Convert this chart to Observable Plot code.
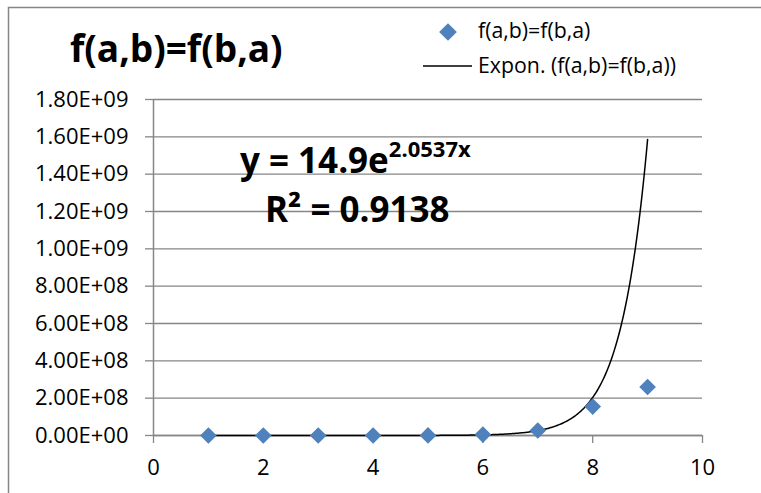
<!DOCTYPE html>
<html>
<head>
<meta charset="utf-8">
<script src="https://cdn.jsdelivr.net/npm/d3@7"></script>
<script src="https://cdn.jsdelivr.net/npm/@observablehq/plot@0.6"></script>
<style>
  html, body { margin: 0; padding: 0; background: #fff; }
  #chart { position: relative; width: 761px; height: 493px; overflow: hidden; }
  #chart > svg { position: absolute; left: 0; top: 0; }
</style>
</head>
<body>
<div id="chart"></div>
<script>
// ---- data ----
const xValues = [1, 2, 3, 4, 5, 6, 7, 8, 9];
const yValues = [1e2, 1e3, 1e4, 1e5, 6e5, 5e6, 2.7e7, 1.55e8, 2.6e8];
const seriesName = "f(a,b)=f(b,a)";
const trendName = "Expon. (f(a,b)=f(b,a))";
const trendCoef = [14.9];      // a in y = a e^(b x)
const trendExp = [2.0537];     // b
const trendRange = [1, 9];
const xTicks = [0, 2, 4, 6, 8, 10];
const yTicks = [0, 2e8, 4e8, 6e8, 8e8, 1e9, 1.2e9, 1.4e9, 1.6e9, 1.8e9];
const yTickLabels = ["0.00E+00","2.00E+08","4.00E+08","6.00E+08","8.00E+08","1.00E+09","1.20E+09","1.40E+09","1.60E+09","1.80E+09"];
const eqMain = ["y = 14.9e"];
const eqSup = ["2.0537x"];
const eqR2 = ["R² = 0.9138"];

const data = xValues.map((x, i) => ({x, y: yValues[i]}));
const trend = d3.range(trendRange[0], trendRange[1] + 1e-9, 0.02)
  .map(x => ({x, y: trendCoef[0] * Math.exp(trendExp[0] * x)}));

const gray = "#868686";
const blue = "#4F81BD";
const font = "'Open Sans', sans-serif";

const W = 761, H = 493;
const plot = Plot.plot({
  width: W, height: H,
  marginLeft: 153, marginRight: 59, marginTop: 99, marginBottom: 58,
  style: {fontFamily: font, fontSize: "22px", color: "#000", background: "transparent"},
  x: {domain: [0, 10]},
  y: {domain: [0, 1.8e9]},
  marks: [
    Plot.gridY(yTicks, {stroke: gray, strokeOpacity: 1, strokeWidth: 1.3}),
    Plot.axisY(yTicks, {tickSize: 8, tickPadding: 17, stroke: gray, strokeWidth: 1.3,
      tickFormat: d => yTickLabels[yTicks.indexOf(d)], label: null}),
    Plot.axisX(xTicks, {tickSize: 8, tickPadding: 16, stroke: gray, strokeWidth: 1.3, label: null}),
    Plot.ruleX([0], {stroke: gray, strokeWidth: 1.5}),
    Plot.ruleY([0], {stroke: gray, strokeWidth: 1.5}),
    Plot.line(trend, {x: "x", y: "y", stroke: "black", strokeWidth: 1.5}),
    Plot.dot(data, {x: "x", y: "y", symbol: "diamond2", r: 7.5, fill: blue, stroke: "none"})
  ]
});
const chart = document.getElementById("chart");
chart.appendChild(plot);

// ---- annotations (title, legend, equation, chart frame) ----
const ov = d3.select(chart).append("svg")
  .attr("width", W).attr("height", H)
  .style("position", "absolute").style("left", 0).style("top", 0)
  .style("font-family", font);

ov.append("path").attr("d", `M8.5,${H}V7.5H${W}`).attr("fill", "none")
  .attr("stroke", gray).attr("stroke-width", 1.5);

ov.append("text").attr("x", 70).attr("y", 62)
  .attr("font-size", 37).attr("font-weight", 700).text(seriesName);

// legend
ov.append("path").attr("d", d3.symbol(d3.symbolDiamond2, 200)())
  .attr("transform", "translate(448,32)").attr("fill", blue);
ov.append("text").attr("x", 478).attr("y", 38).attr("font-size", 21.3).text(seriesName);
ov.append("line").attr("x1", 423).attr("x2", 472).attr("y1", 66).attr("y2", 66)
  .attr("stroke", "black").attr("stroke-width", 1.5);
ov.append("text").attr("x", 478).attr("y", 73).attr("font-size", 21.3).text(trendName);

// equation
const eq = ov.append("text").attr("x", 240).attr("y", 173)
  .attr("font-size", 35).attr("font-weight", 700);
eq.append("tspan").text(eqMain[0]);
eq.append("tspan").attr("dy", -16).attr("font-size", 22).text(eqSup[0]);
ov.append("text").attr("x", 265).attr("y", 222)
  .attr("font-size", 35).attr("font-weight", 700).text(eqR2[0]);
</script>
</body>
</html>
